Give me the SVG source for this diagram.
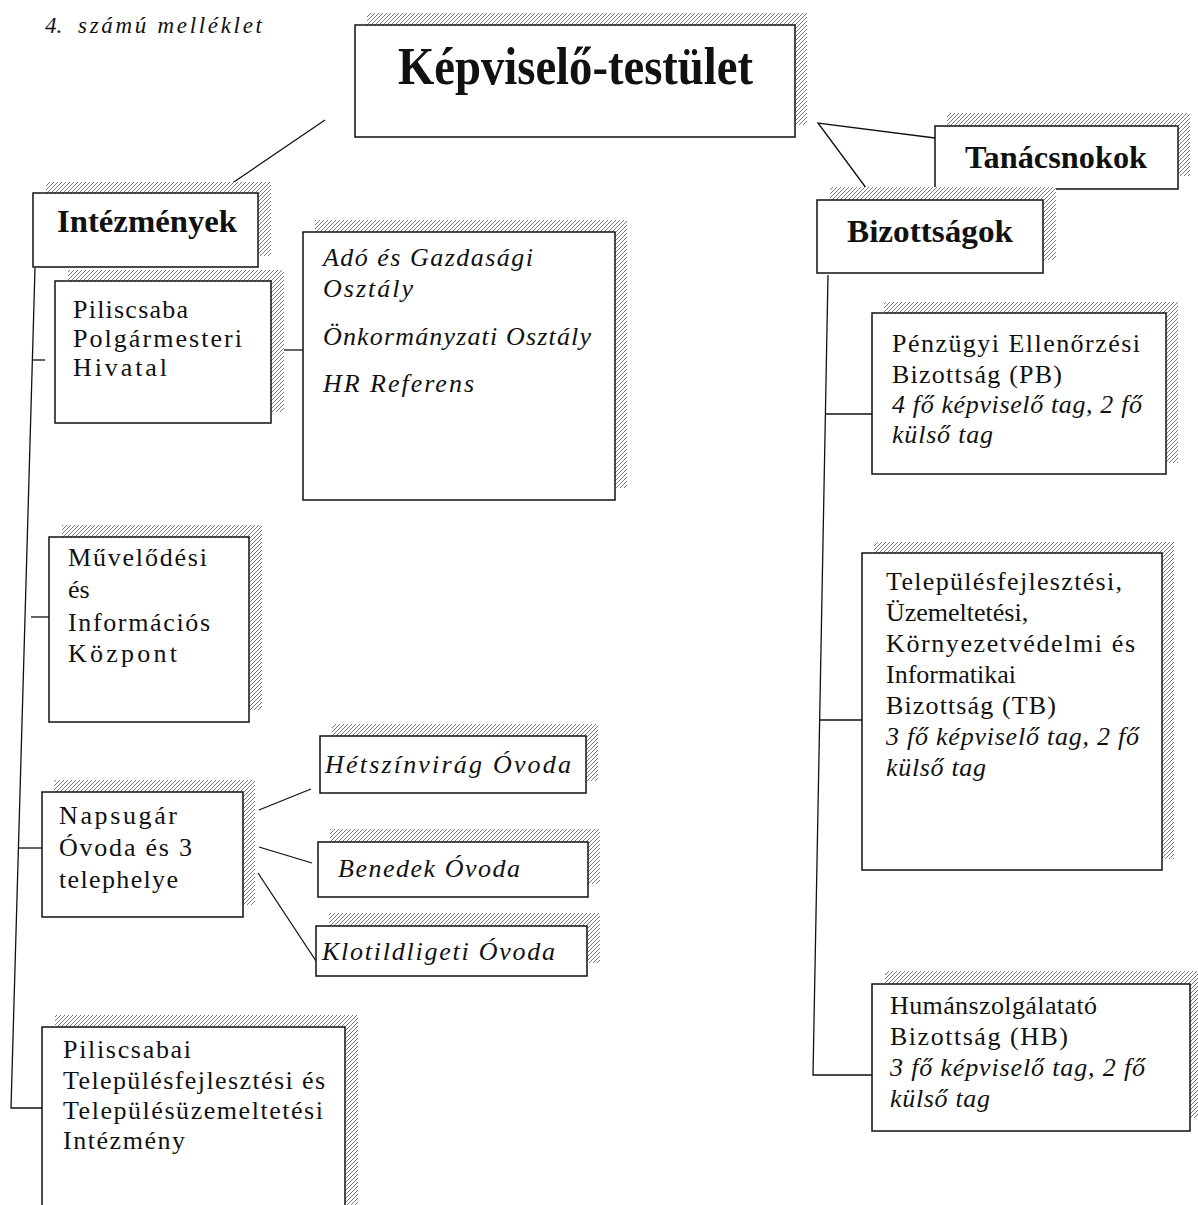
<svg xmlns="http://www.w3.org/2000/svg" width="1198" height="1205" viewBox="0 0 1198 1205">
<defs>
<pattern id="hatch" width="4" height="4" patternUnits="userSpaceOnUse">
<rect width="4" height="4" fill="#fff"/>
<path d="M0,4 L4,0 M-1,1 L1,-1 M3,5 L5,3" stroke="#7a7a7a" stroke-width="1"/>
</pattern>
</defs>
<style>
.box{fill:#fff;stroke:#111;stroke-width:1.5}
.sh{fill:url(#hatch);stroke:none}
.ln{fill:none;stroke:#111;stroke-width:1.3}
text{font-family:"Liberation Serif","Times New Roman",serif;fill:#111}
.b{font-weight:bold}
.r{font-size:26px}
.i{font-size:26px;font-style:italic}
</style>
<rect width="1198" height="1205" fill="#fff"/>

<text y="33" style="font-size:23px;font-style:italic"><tspan x="45">4.</tspan><tspan x="78" textLength="184" lengthAdjust="spacing">számú melléklet</tspan></text>

<g id="connectors">
<line class="ln" x1="325" y1="120" x2="228" y2="186"/>
<polyline class="ln" points="935,138 818,123 875,200"/>
<polyline class="ln" points="35,268 11,1108 42,1108"/>
<line class="ln" x1="32" y1="360" x2="45" y2="360"/>
<line class="ln" x1="31" y1="617" x2="50" y2="617"/>
<line class="ln" x1="18" y1="848" x2="44" y2="848"/>
<line class="ln" x1="272" y1="350" x2="303" y2="350"/>
<line class="ln" x1="259" y1="810" x2="311" y2="789"/>
<line class="ln" x1="259" y1="847" x2="312" y2="863"/>
<line class="ln" x1="258" y1="873" x2="320" y2="967"/>
<polyline class="ln" points="828,275 813,1075 872,1075"/>
<line class="ln" x1="826" y1="414" x2="872" y2="414"/>
<line class="ln" x1="820" y1="720" x2="862" y2="720"/>
</g>

<g id="kepviselo-testulet">
<rect class="sh" x="367" y="13" width="440" height="112"/>
<rect class="box" x="355" y="25" width="440" height="112"/>
<text x="398" y="84" class="b" style="font-size:52px" textLength="355" lengthAdjust="spacingAndGlyphs">Képviselő-testület</text>
</g>

<g id="tanacsnokok">
<rect class="sh" x="947" y="113" width="243" height="63"/>
<rect class="box" x="935" y="126" width="243" height="63"/>
<text x="965" y="168" class="b" style="font-size:32px" textLength="182" lengthAdjust="spacingAndGlyphs">Tanácsnokok</text>
</g>

<g id="bizottsagok">
<rect class="sh" x="830" y="187" width="226" height="73"/>
<rect class="box" x="817" y="200" width="226" height="73"/>
<text x="847" y="242" class="b" style="font-size:32px" textLength="166" lengthAdjust="spacingAndGlyphs">Bizottságok</text>
</g>

<g id="intezmenyek">
<rect class="sh" x="46" y="182" width="225" height="74"/>
<rect class="box" x="33" y="193" width="225" height="74"/>
<text x="57" y="232" class="b" style="font-size:32px" textLength="180" lengthAdjust="spacingAndGlyphs">Intézmények</text>
</g>

<g id="polgarmesteri-hivatal">
<rect class="sh" x="68" y="270" width="216" height="142"/>
<rect class="box" x="55" y="281" width="216" height="142"/>
<text class="r"><tspan x="73" y="318" textLength="115" lengthAdjust="spacing">Piliscsaba</tspan><tspan x="73" y="347" textLength="169" lengthAdjust="spacing">Polgármesteri</tspan><tspan x="73" y="376" textLength="94" lengthAdjust="spacing">Hivatal</tspan></text>
</g>

<g id="osztalyok">
<rect class="sh" x="315" y="220" width="312" height="268"/>
<rect class="box" x="303" y="232" width="312" height="268"/>
<text class="i"><tspan x="323" y="266" textLength="210" lengthAdjust="spacing">Adó és Gazdasági</tspan><tspan x="323" y="297" textLength="90" lengthAdjust="spacing">Osztály</tspan><tspan x="323" y="345" textLength="268" lengthAdjust="spacing">Önkormányzati Osztály</tspan><tspan x="323" y="392" textLength="151" lengthAdjust="spacing">HR Referens</tspan></text>
</g>

<g id="muvelodesi">
<rect class="sh" x="62" y="525" width="200" height="185"/>
<rect class="box" x="49" y="537" width="200" height="185"/>
<text class="r"><tspan x="68" y="566" textLength="139" lengthAdjust="spacing">Művelődési</tspan><tspan x="68" y="598">és</tspan><tspan x="68" y="631" textLength="142" lengthAdjust="spacing">Információs</tspan><tspan x="68" y="662" textLength="109" lengthAdjust="spacing">Központ</tspan></text>
</g>

<g id="napsugar">
<rect class="sh" x="54" y="780" width="201" height="125"/>
<rect class="box" x="42" y="792" width="201" height="125"/>
<text class="r"><tspan x="59" y="824" textLength="118" lengthAdjust="spacing">Napsugár</tspan><tspan x="59" y="856" textLength="133" lengthAdjust="spacing">Óvoda és 3</tspan><tspan x="59" y="888" textLength="119" lengthAdjust="spacing">telephelye</tspan></text>
</g>

<g id="hetszinvirag">
<rect class="sh" x="332" y="724" width="266" height="57"/>
<rect class="box" x="320" y="736" width="266" height="57"/>
<text x="325" y="773" class="i" textLength="246" lengthAdjust="spacing">Hétszínvirág Óvoda</text>
</g>

<g id="benedek">
<rect class="sh" x="330" y="829" width="270" height="55"/>
<rect class="box" x="318" y="842" width="270" height="55"/>
<text x="338" y="877" class="i" textLength="182" lengthAdjust="spacing">Benedek Óvoda</text>
</g>

<g id="klotildligeti">
<rect class="sh" x="329" y="913" width="271" height="50"/>
<rect class="box" x="316" y="926" width="271" height="50"/>
<text x="322" y="960" class="i" textLength="233" lengthAdjust="spacing">Klotildligeti Óvoda</text>
</g>

<g id="telepulesfejlesztesi-intezmeny">
<rect class="sh" x="55" y="1015" width="303" height="200"/>
<rect class="box" x="42" y="1027" width="303" height="200"/>
<text class="r"><tspan x="63" y="1058" textLength="128" lengthAdjust="spacing">Piliscsabai</tspan><tspan x="63" y="1089" textLength="262" lengthAdjust="spacing">Településfejlesztési és</tspan><tspan x="63" y="1119" textLength="260" lengthAdjust="spacing">Településüzemeltetési</tspan><tspan x="63" y="1149" textLength="122" lengthAdjust="spacing">Intézmény</tspan></text>
</g>

<g id="penzugyi-bizottsag">
<rect class="sh" x="884" y="302" width="294" height="161"/>
<rect class="box" x="872" y="313" width="294" height="161"/>
<text class="r"><tspan x="892" y="352" textLength="248" lengthAdjust="spacing">Pénzügyi Ellenőrzési</tspan><tspan x="892" y="383" textLength="170" lengthAdjust="spacing">Bizottság (PB)</tspan></text>
<text class="i"><tspan x="892" y="413" textLength="250" lengthAdjust="spacing">4 fő képviselő tag, 2 fő</tspan><tspan x="892" y="443" textLength="101" lengthAdjust="spacing">külső tag</tspan></text>
</g>

<g id="telepulesfejlesztesi-bizottsag">
<rect class="sh" x="874" y="542" width="300" height="317"/>
<rect class="box" x="862" y="553" width="300" height="317"/>
<text class="r"><tspan x="886" y="590" textLength="236" lengthAdjust="spacing">Településfejlesztési,</tspan><tspan x="886" y="621">Üzemeltetési,</tspan><tspan x="886" y="652" textLength="249" lengthAdjust="spacing">Környezetvédelmi és</tspan><tspan x="886" y="683">Informatikai</tspan><tspan x="886" y="714" textLength="170" lengthAdjust="spacing">Bizottság (TB)</tspan></text>
<text class="i"><tspan x="886" y="745" textLength="253" lengthAdjust="spacing">3 fő képviselő tag, 2 fő</tspan><tspan x="886" y="776" textLength="100" lengthAdjust="spacing">külső tag</tspan></text>
</g>

<g id="humanszolgaltato-bizottsag">
<rect class="sh" x="885" y="971" width="318" height="147"/>
<rect class="box" x="872" y="984" width="318" height="147"/>
<text class="r"><tspan x="890" y="1014" textLength="207" lengthAdjust="spacing">Humánszolgálatató</tspan><tspan x="890" y="1045" textLength="178" lengthAdjust="spacing">Bizottság (HB)</tspan></text>
<text class="i"><tspan x="890" y="1076" textLength="255" lengthAdjust="spacing">3 fő képviselő tag, 2 fő</tspan><tspan x="890" y="1107" textLength="100" lengthAdjust="spacing">külső tag</tspan></text>
</g>
</svg>
